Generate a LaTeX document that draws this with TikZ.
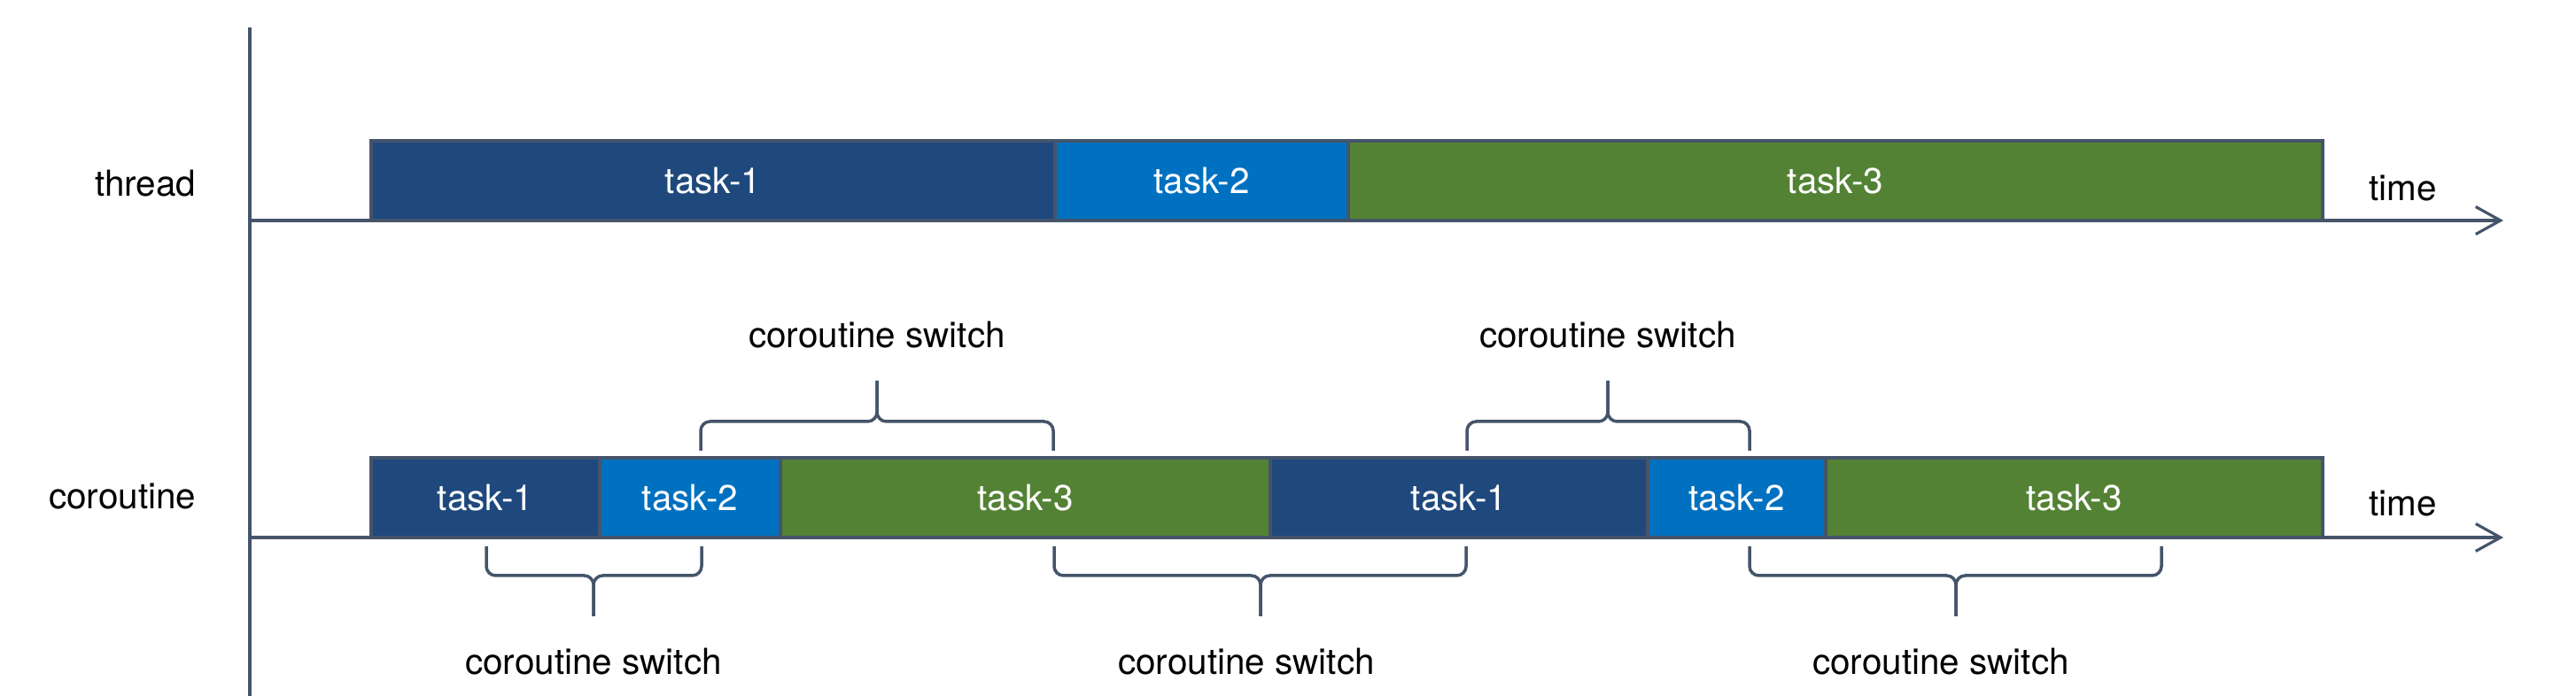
\documentclass[tikz,border=0pt]{standalone}
\usepackage{fontspec}
\setmainfont{TeX Gyre Heros}
\usetikzlibrary{positioning,arrows.meta}
\definecolor{axisgray}{HTML}{44546A}
\definecolor{taskone}{HTML}{1F497D}
\definecolor{tasktwo}{HTML}{0070C0}
\definecolor{taskthree}{HTML}{548235}

\begin{document}
\begin{tikzpicture}[font=\fontsize{11.5}{14}\selectfont,
    axis/.style={draw=axisgray,line width=0.9pt},
    brace/.style={draw=axisgray,line width=1pt,rounded corners=3pt},
    bar/.style={draw=axisgray,line width=1.2pt,minimum height=0.9cm,inner sep=0pt,outer sep=0pt,text=white},
    lbl/.style={inner sep=0pt}]
  \useasboundingbox (0,0) rectangle (29.08,7.86);

  % axes
  \coordinate (top) at (2.82,7.55);
  \coordinate (bottom) at (2.82,0);
  \coordinate (T0) at (2.82,5.37);
  \coordinate (T1) at (28.26,5.37);
  \coordinate (C0) at (2.82,1.79);
  \coordinate (C1) at (28.26,1.79);
  \draw[axis] (top) -- (bottom);
  \draw[axis,-{Straight Barb[length=2.8mm,width=3.1mm]}] (T0) -- (T1);
  \draw[axis,-{Straight Barb[length=2.8mm,width=3.1mm]}] (C0) -- (C1);

  \node[lbl,anchor=base east] (thread) at (2.22,5.64) {thread};
  \node[lbl,anchor=base east] (coroutine) at (2.22,2.11) {coroutine};
  \node[lbl,anchor=base west] (timeT) at (26.74,5.59) {time};
  \node[lbl,anchor=base west] (timeC) at (26.74,2.03) {time};

  % thread
  \node[bar,fill=taskone,minimum width=7.72cm,anchor=south west] (th1) at (4.19,5.37) {task-1};
  \node[bar,fill=tasktwo,minimum width=3.31cm,right=0pt of th1] (th2) {task-2};
  \node[bar,fill=taskthree,minimum width=11cm,right=0pt of th2] (th3) {task-3};

  % coroutine
  \node[bar,fill=taskone,minimum width=2.58cm,anchor=south west] (co1) at (4.19,1.79) {task-1};
  \node[bar,fill=tasktwo,minimum width=2.04cm,right=0pt of co1] (co2) {task-2};
  \node[bar,fill=taskthree,minimum width=5.53cm,right=0pt of co2] (co3) {task-3};
  \node[bar,fill=taskone,minimum width=4.26cm,right=0pt of co3] (co4) {task-1};
  \node[bar,fill=tasktwo,minimum width=2.01cm,right=0pt of co4] (co5) {task-2};
  \node[bar,fill=taskthree,minimum width=5.61cm,right=0pt of co5] (co6) {task-3};

  % switches above
  \draw[brace] (7.91,2.77) |- (9.90,3.10) -- (9.90,3.56);
  \draw[brace] (11.89,2.77) |- (9.90,3.10) -- (9.90,3.56);
  \node[lbl,anchor=base] (sw1) at (9.90,3.93) {coroutine switch};
  \draw[brace] (16.56,2.77) |- (18.15,3.10) -- (18.15,3.56);
  \draw[brace] (19.75,2.77) |- (18.15,3.10) -- (18.15,3.56);
  \node[lbl,anchor=base] (sw2) at (18.15,3.93) {coroutine switch};

  % switches below
  \draw[brace] (5.49,1.69) |- (6.70,1.36) -- (6.70,0.90);
  \draw[brace] (7.92,1.69) |- (6.70,1.36) -- (6.70,0.90);
  \node[lbl,anchor=base] (sw3) at (6.70,0.24) {coroutine switch};
  \draw[brace] (11.90,1.69) |- (14.23,1.36) -- (14.23,0.90);
  \draw[brace] (16.55,1.69) |- (14.23,1.36) -- (14.23,0.90);
  \node[lbl,anchor=base] (sw4) at (14.07,0.24) {coroutine switch};
  \draw[brace] (19.75,1.69) |- (22.08,1.36) -- (22.08,0.90);
  \draw[brace] (24.40,1.69) |- (22.08,1.36) -- (22.08,0.90);
  \node[lbl,anchor=base] (sw5) at (21.91,0.24) {coroutine switch};
\end{tikzpicture}
\end{document}
